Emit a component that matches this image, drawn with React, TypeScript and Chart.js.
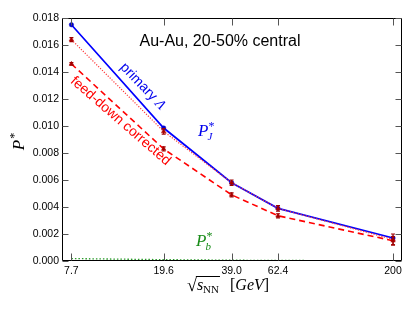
import React, { useEffect, useRef } from 'react';
import { Chart, registerables } from 'chart.js';

Chart.register(...registerables);

const energies = [7.7, 19.6, 39.0, 62.4, 200];
const xTickLabels = ['7.7', '19.6', '39.0', '62.4', '200'];
const yTickValues = [0, 0.002, 0.004, 0.006, 0.008, 0.01, 0.012, 0.014, 0.016, 0.018];
const primaryLambda = [0.0175, 0.00985, 0.0058, 0.0039, 0.0017];
const feedDownDotted = [0.0164, 0.0096, 0.0058, 0.0039, 0.0016];
const feedDownDottedErr = [0.00015, 0.0002, 0.0002, 0.0002, 0.0004];
const feedDownCorrected = [0.0146, 0.0083, 0.0049, 0.00335, 0.0015];
const feedDownCorrectedErr = [0.0001, 0.00015, 0.00015, 0.00015, 0.0003];
const pbValues = [0.00018, 0.0001, 0.00006, 0.00004, 0.00002];

const SANS = '"Liberation Sans", Arial, sans-serif';
const SERIF = '"Liberation Serif", "DejaVu Serif", serif';

const decorPlugin = {
  id: 'decor',
  afterDatasetsDraw(chart: any) {
    const { ctx, chartArea: a, scales } = chart;
    const x = scales.x;
    const y = scales.y;
    ctx.save();
    const drawErr = (vals: number[], errs: number[]) => {
      ctx.strokeStyle = '#a00000';
      ctx.lineWidth = 1.2;
      vals.forEach((v, i) => {
        const px = x.getPixelForValue(energies[i]);
        const p1 = y.getPixelForValue(v - errs[i]);
        const p2 = y.getPixelForValue(v + errs[i]);
        ctx.beginPath();
        ctx.moveTo(px, p1);
        ctx.lineTo(px, p2);
        ctx.moveTo(px - 2, p1);
        ctx.lineTo(px + 2, p1);
        ctx.moveTo(px - 2, p2);
        ctx.lineTo(px + 2, p2);
        ctx.stroke();
      });
    };
    drawErr(feedDownDotted, feedDownDottedErr);
    drawErr(feedDownCorrected, feedDownCorrectedErr);

    const L = Math.round(a.left) + 0.5;
    const R = Math.round(a.right) - 0.5;
    const T = Math.round(a.top) + 0.5;
    const B = Math.round(a.bottom) - 0.5;
    ctx.strokeStyle = '#000';
    ctx.lineWidth = 1;
    ctx.beginPath();
    ctx.moveTo(L, T);
    ctx.lineTo(R, T);
    ctx.lineTo(R, B);
    ctx.lineTo(L, B);
    ctx.closePath();
    ctx.stroke();

    ctx.strokeStyle = '#555';
    ctx.beginPath();
    energies.forEach((e) => {
      const px = Math.round(x.getPixelForValue(e)) + 0.5;
      ctx.moveTo(px, B);
      ctx.lineTo(px, B - 7);
      ctx.moveTo(px, T);
      ctx.lineTo(px, T + 7);
    });
    yTickValues.forEach((v) => {
      const py = Math.round(y.getPixelForValue(v)) + 0.5;
      ctx.moveTo(L, py);
      ctx.lineTo(L + 6, py);
      ctx.moveTo(R, py);
      ctx.lineTo(R - 6, py);
    });
    ctx.stroke();
    ctx.restore();
  },
  afterDraw(chart: any) {
    const { ctx } = chart;
    ctx.save();
    ctx.textBaseline = 'alphabetic';

    ctx.fillStyle = '#000';
    ctx.font = `16px ${SANS}`;
    ctx.textAlign = 'center';
    ctx.fillText('Au-Au, 20-50% central', 220, 46);

    ctx.save();
    ctx.translate(140, 89);
    ctx.rotate((46 * Math.PI) / 180);
    ctx.fillStyle = '#0000ee';
    ctx.font = `14px ${SANS}`;
    ctx.textAlign = 'left';
    const w1 = ctx.measureText('primary ').width;
    ctx.font = `italic 14px ${SERIF}`;
    const w2 = ctx.measureText('Λ').width;
    const start = -(w1 + w2) / 2;
    ctx.font = `14px ${SANS}`;
    ctx.fillText('primary ', start, 0);
    ctx.font = `italic 14px ${SERIF}`;
    ctx.fillText('Λ', start + w1, 0);
    ctx.restore();

    ctx.save();
    ctx.translate(118, 124);
    ctx.rotate((41 * Math.PI) / 180);
    ctx.fillStyle = '#ff0000';
    ctx.font = `14px ${SANS}`;
    ctx.textAlign = 'center';
    ctx.fillText('feed-down corrected', 0, 0);
    ctx.restore();

    const drawP = (sub: string, px: number, py: number, color: string) => {
      ctx.fillStyle = color;
      ctx.textAlign = 'left';
      ctx.font = `italic 17px ${SERIF}`;
      ctx.fillText('P', px, py);
      const wp = ctx.measureText('P').width;
      ctx.font = `italic 11px ${SERIF}`;
      ctx.fillText(sub, px + wp - 1, py + 4);
      ctx.font = `12px ${SERIF}`;
      ctx.fillText('*', px + wp, py - 6);
    };
    drawP('J', 198, 136, '#0000ee');
    drawP('b', 196, 246, '#1a8c1a');

    ctx.save();
    ctx.translate(24, 142);
    ctx.rotate(-Math.PI / 2);
    ctx.fillStyle = '#000';
    ctx.font = `italic 17px ${SERIF}`;
    ctx.textAlign = 'left';
    const wP = ctx.measureText('P').width;
    ctx.fillText('P', -wP / 2 - 3, 0);
    ctx.font = `12px ${SERIF}`;
    ctx.fillText('*', wP / 2 - 2, -6);
    ctx.restore();

    ctx.fillStyle = '#000';
    ctx.textAlign = 'left';
    let cx = 187;
    const by = 290;
    ctx.font = `18px ${SERIF}`;
    ctx.fillText('√', cx, by + 1);
    const wr = ctx.measureText('√').width;
    cx += wr;
    const ovStart = cx - 1;
    ctx.font = `italic 16px ${SERIF}`;
    ctx.fillText('s', cx, by);
    cx += ctx.measureText('s').width;
    ctx.font = `11px ${SERIF}`;
    ctx.fillText('NN', cx, by + 3);
    cx += ctx.measureText('NN').width + 1;
    ctx.strokeStyle = '#000';
    ctx.lineWidth = 1;
    ctx.beginPath();
    ctx.moveTo(ovStart, by - 13.5);
    ctx.lineTo(cx, by - 13.5);
    ctx.stroke();
    cx += 10;
    ctx.font = `16px ${SERIF}`;
    ctx.fillText('[', cx, by);
    cx += ctx.measureText('[').width;
    ctx.font = `italic 16px ${SERIF}`;
    ctx.fillText('GeV', cx, by);
    cx += ctx.measureText('GeV').width;
    ctx.font = `16px ${SERIF}`;
    ctx.fillText(']', cx, by);

    ctx.restore();
  },
};

export default function App() {
  const ref = useRef<HTMLCanvasElement | null>(null);
  useEffect(() => {
    if (!ref.current) return;
    const mk = (vals: number[]) => vals.map((v, i) => ({ x: energies[i], y: v }));
    const chart = new Chart(ref.current, {
      type: 'line',
      data: {
        datasets: [
          {
            label: 'P_b',
            data: mk(pbValues),
            borderColor: '#2a9a2a',
            borderWidth: 1.3,
            borderDash: [1.5, 2],
            pointRadius: 0,
            fill: false,
          },
          {
            label: 'feed-down dotted',
            data: mk(feedDownDotted),
            borderColor: '#ff3b3b',
            borderWidth: 1.2,
            borderDash: [1.2, 1.5],
            pointStyle: 'triangle',
            pointRadius: 2.6,
            pointBackgroundColor: '#b00000',
            pointBorderColor: '#b00000',
            pointBorderWidth: 0.5,
            fill: false,
          },
          {
            label: 'feed-down corrected',
            data: mk(feedDownCorrected),
            borderColor: '#ff0000',
            borderWidth: 1.6,
            borderDash: [6, 4],
            pointStyle: 'triangle',
            pointRadius: 2.6,
            pointBackgroundColor: '#b00000',
            pointBorderColor: '#b00000',
            pointBorderWidth: 0.5,
            fill: false,
          },
          {
            label: 'primary Lambda',
            data: mk(primaryLambda),
            borderColor: '#0000ff',
            borderWidth: 1.7,
            pointStyle: 'circle',
            pointRadius: 2.2,
            pointBackgroundColor: '#0000cc',
            pointBorderColor: '#0000cc',
            pointBorderWidth: 0.5,
            fill: false,
          },
        ],
      },
      options: {
        responsive: false,
        animation: false,
        devicePixelRatio: 1,
        layout: { padding: { top: 18, right: 13, left: 0, bottom: 0 } },
        plugins: { legend: { display: false }, tooltip: { enabled: false }, title: { display: false } },
        elements: { line: { tension: 0 } },
        scales: {
          x: {
            type: 'logarithmic',
            min: 7,
            max: 219,
            afterBuildTicks: (scale: any) => {
              scale.ticks = energies.map((v) => ({ value: v }));
            },
            afterFit: (scale: any) => {
              scale.height = 52;
            },
            grid: { display: false, drawTicks: false },
            border: { display: false },
            ticks: {
              autoSkip: false,
              maxRotation: 0,
              padding: 4,
              color: '#000',
              font: { family: SANS, size: 10.5 },
              callback: (v: any) => {
                const i = energies.indexOf(Number(v));
                return i >= 0 ? xTickLabels[i] : '';
              },
            },
          },
          y: {
            type: 'linear',
            min: 0,
            max: 0.018,
            afterBuildTicks: (scale: any) => {
              scale.ticks = yTickValues.map((v) => ({ value: v }));
            },
            afterFit: (scale: any) => {
              scale.width = 62;
            },
            grid: { display: false, drawTicks: false },
            border: { display: false },
            ticks: {
              padding: 3,
              color: '#000',
              font: { family: SANS, size: 10.5 },
              callback: (v: any) => Number(v).toFixed(3),
            },
          },
        },
      },
      plugins: [decorPlugin],
    });
    return () => chart.destroy();
  }, []);
  return (
    <div style={{ position: 'absolute', left: 0, top: 0, width: 415, height: 313, background: '#fff' }}>
      <canvas ref={ref} width={415} height={313} style={{ width: 415, height: 313, display: 'block' }} />
    </div>
  );
}
